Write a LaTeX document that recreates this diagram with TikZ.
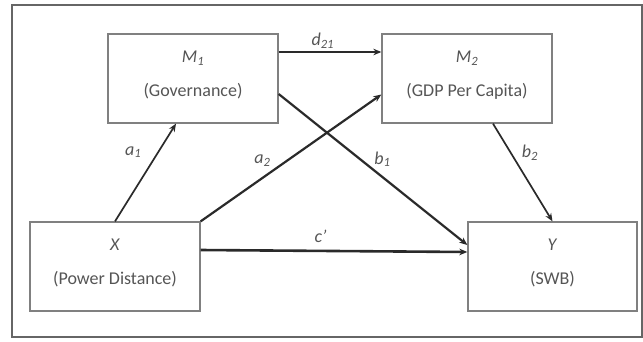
\documentclass[tikz,border=0pt]{standalone}
\usepackage{fontspec}
\setmainfont{Carlito}
\usetikzlibrary{arrows.meta}
\definecolor{boxgray}{HTML}{808080}
\definecolor{txtgray}{HTML}{555555}
\definecolor{linegray}{HTML}{2A2A2A}
\definecolor{framegray}{HTML}{666666}
\newcommand{\lowgap}{\rule[-9pt]{0pt}{0pt}}

\begin{document}
\begin{tikzpicture}[x=1pt, y=-1pt,
		box/.style={draw=boxgray, line width=1.3pt, rectangle, minimum width=170pt, minimum height=89pt, align=center, text=txtgray, font=\fontsize{18}{20}\selectfont},
		link/.style={draw=linegray, line width=2pt, -{Stealth[length=8pt,width=6.5pt]}},
		lbl/.style={text=txtgray, inner sep=0pt, font=\fontsize{18}{20}\selectfont\itshape}]
				\useasboundingbox (0,0) rectangle (643,341);
				\draw[framegray, line width=2pt] (12,5) rectangle (642,337);
				\node[box] (M1)at(193, 78.5) {\textit{M\textsubscript{1}}\\[14pt](Governance)\lowgap};
				\node[box] (M2)at(467, 78.5) {\textit{M\textsubscript{2}}\\[14pt](GDP Per Capita)\lowgap};
				\node[box] (X)at(115, 266.5) {\textit{X}\\[14pt](Power Distance)\lowgap};
				\node[box, minimum width=169pt] (Y)at(552.5, 266.5) {\textit{Y}\\[14pt](SWB)\lowgap};
				\draw (X.north) edge[link, line width=1.7pt] node[lbl, pos=0.71, xshift=-25pt]{a\textsubscript{1}} ([xshift=-17pt]M1.south);
				\draw (X.north east) edge[link, line width=2.2pt] node[lbl, pos=0.48, xshift=-25pt]{a\textsubscript{2}} ([yshift=-16pt]M2.west);
				\draw ([yshift=26.5pt]M1.east) edge[link, line width=2.2pt] node[lbl, pos=0.43, yshift=11pt]{d\textsubscript{21}} ([yshift=26.5pt]M2.west);
				\draw ([yshift=-15.5pt]M1.east) edge[link, line width=2.2pt] node[lbl, pos=0.55, yshift=18pt]{b\textsubscript{1}} ([yshift=21.5pt]Y.west);
				\draw ([yshift=16.5pt]X.east) edge[link, line width=2.6pt] node[lbl, pos=0.45, yshift=15pt]{c'} ([yshift=14.5pt]Y.west);
				\draw ([xshift=26pt]M2.south) edge[link, line width=1.7pt] node[lbl, pos=0.3, xshift=19pt]{b\textsubscript{2}} (Y.north);
			\end{tikzpicture}
\end{document}
